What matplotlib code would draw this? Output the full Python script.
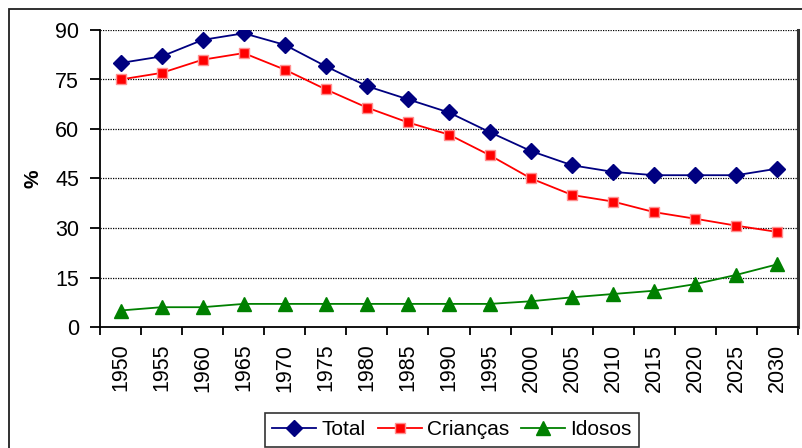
import matplotlib
matplotlib.use("Agg")
import matplotlib.pyplot as plt
from matplotlib.patches import Rectangle

plt.rcParams['font.family'] = ['Liberation Sans', 'DejaVu Sans']

years = ['1950', '1955', '1960', '1965', '1970', '1975', '1980', '1985', '1990',
         '1995', '2000', '2005', '2010', '2015', '2020', '2025', '2030']
total = [80, 82, 87, 89, 85.5, 79, 73, 69, 65, 59, 53.3, 49, 47, 46, 46, 46, 48]
criancas = [75, 77, 81, 83, 78, 72, 66.5, 62, 58.3, 52, 45, 40, 38, 34.8, 32.8, 30.7, 28.8]
idosos = [5, 6, 6, 7, 7, 7, 7, 7, 7, 7, 7.8, 9, 10, 11, 13, 15.8, 19]

fig = plt.figure(figsize=(8.02, 4.48), dpi=100)
ax = fig.add_axes([100 / 802, 1 - 327 / 448, 698 / 802, 297 / 448])

# outer chart frame (partly cut off by the image edges)
fig.patches.append(Rectangle((9 / 802, -0.05), 1.1, 1 - 9.5 / 448 + 0.05,
                             transform=fig.transFigure, fill=False,
                             edgecolor='#202020', linewidth=1.3))

x = list(range(len(years)))
ax.plot(x, total, color='#000080', lw=1.3, marker='D', ms=8,
        mfc='#000080', mec='#000080', label='Total')
ax.plot(x, criancas, color='#ff0000', lw=1.3, marker='s', ms=7,
        mfc='#ff0000', mec='#ff9090', mew=1, label='Crianças')
ax.plot(x, idosos, color='#008000', lw=1.3, marker='^', ms=10,
        mfc='#008000', mec='#008000', label='Idosos')

ax.set_xlim(-0.5, len(years) - 0.5)
ax.set_ylim(0, 90)
ax.set_yticks(range(0, 91, 15))
ax.set_xticks(x)
ax.set_xticklabels(years, rotation=90)
ax.set_xticks([i - 0.5 for i in range(len(years) + 1)], minor=True)
ax.tick_params(axis='x', which='major', length=0, pad=12, labelsize=15.5)
ax.tick_params(axis='x', which='minor', length=6, width=1.3, direction='out')
ax.tick_params(axis='y', length=7, width=1.3, pad=8, labelsize=15.5)

for v in range(15, 91, 15):
    ax.axhline(v, color='black', lw=0.9, ls=(0, (1, 1)), zorder=0)

ax.spines['top'].set_visible(False)
ax.spines['left'].set_linewidth(1.3)
ax.spines['bottom'].set_linewidth(1.3)
ax.spines['right'].set_linewidth(2.2)
ax.spines['right'].set_color('#303030')

ax.set_ylabel('%', fontsize=15, fontweight='bold', labelpad=9)

leg = fig.legend(loc='lower center', bbox_to_anchor=(452 / 802, 1.5 / 448), ncol=3,
                 fontsize=15, frameon=True, fancybox=False, edgecolor='black',
                 handlelength=2.1, handletextpad=0.25, columnspacing=0.6,
                 borderpad=0.35, borderaxespad=0)
leg.get_frame().set_linewidth(1.2)

fig.savefig('out.png', dpi=100)
